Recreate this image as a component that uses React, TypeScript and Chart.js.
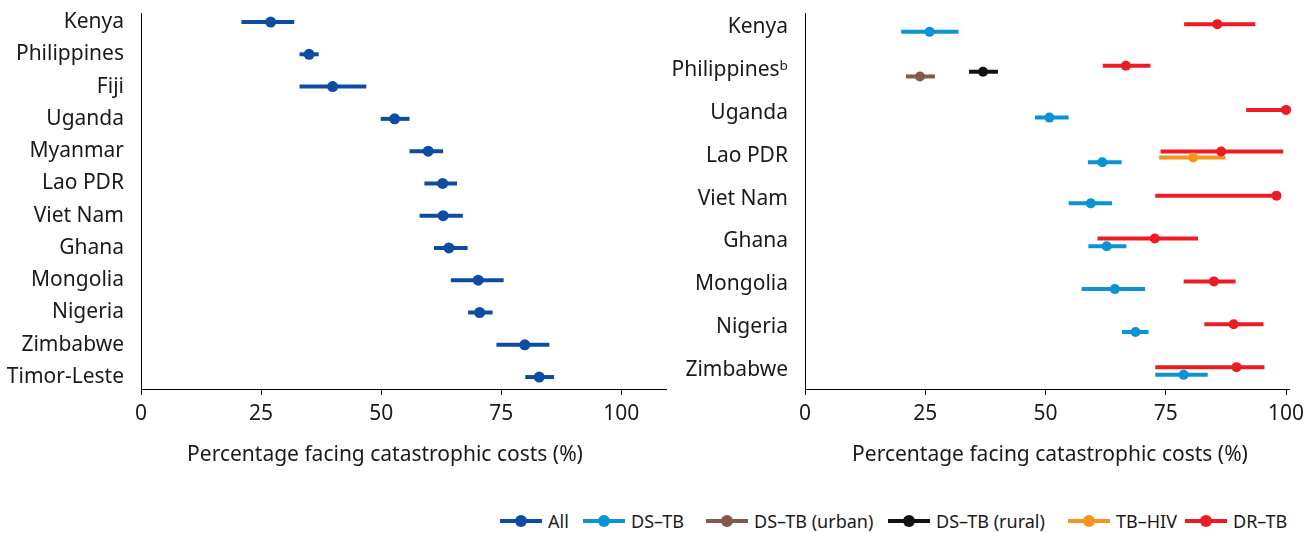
import React, { useEffect, useRef } from 'react';
import { Chart, registerables } from 'chart.js';

Chart.register(...registerables);

const FONT = '"Noto Sans", sans-serif';
const TEXT = '#1a1a1a';

// ---------- Left panel: all TB patients ----------
const leftCategories = ['Kenya', 'Philippines', 'Fiji', 'Uganda', 'Myanmar', 'Lao PDR', 'Viet Nam', 'Ghana', 'Mongolia', 'Nigeria', 'Zimbabwe', 'Timor-Leste'];
const allValues = [27.0, 35.0, 39.9, 52.8, 59.8, 62.8, 62.9, 64.1, 70.2, 70.5, 79.9, 82.9];
const allLow = [20.9, 33.0, 33.0, 49.9, 55.9, 59.0, 58.0, 61.0, 64.5, 68.1, 74.0, 80.0];
const allHigh = [31.9, 37.0, 46.9, 55.9, 62.9, 65.8, 67.0, 68.0, 75.5, 73.2, 85.0, 86.0];

// ---------- Right panel: by patient group ----------
const rightCategories = ['Kenya', 'Philippinesᵇ', 'Uganda', 'Lao PDR', 'Viet Nam', 'Ghana', 'Mongolia', 'Nigeria', 'Zimbabwe'];

const drTbValues = [85.7, 66.7, 100, 86.5, 98.0, 72.7, 85.0, 89.1, 89.7];
const drTbLow = [78.8, 61.9, 91.7, 73.9, 72.8, 60.8, 78.7, 83.0, 72.8];
const drTbHigh = [93.6, 71.8, 100, 99.4, 98.0, 81.7, 89.5, 95.3, 95.5];

const tbHivValues = [null, null, null, 80.7, null, null, null, null, null];
const tbHivLow = [null, null, null, 73.6, null, null, null, null, null];
const tbHivHigh = [null, null, null, 87.4, null, null, null, null, null];

const dsRuralValues = [null, 37.0, null, null, null, null, null, null, null];
const dsRuralLow = [null, 34.1, null, null, null, null, null, null, null];
const dsRuralHigh = [null, 40.1, null, null, null, null, null, null, null];

const dsUrbanValues = [null, 23.9, null, null, null, null, null, null, null];
const dsUrbanLow = [null, 21.0, null, null, null, null, null, null, null];
const dsUrbanHigh = [null, 27.0, null, null, null, null, null, null, null];

const dsTbValues = [25.9, null, 50.8, 61.8, 59.4, 62.7, 64.4, 68.7, 78.7];
const dsTbLow = [20.0, null, 47.8, 58.8, 54.8, 58.9, 57.5, 65.9, 72.8];
const dsTbHigh = [31.9, null, 54.8, 65.8, 63.8, 66.8, 70.7, 71.4, 83.7];

const xTickValues = [0, 25, 50, 75, 100];
const axisTitle = 'Percentage facing catastrophic costs (%)';

const COLORS = {
  all: '#0c4da2',
  ds: '#0b93d3',
  urban: '#86574b',
  rural: '#111111',
  hiv: '#f7941e',
  dr: '#ec1c24',
};

// order within a category (top to bottom)
const rightSeries = [
  { label: 'DR–TB', color: COLORS.dr, values: drTbValues, low: drTbLow, high: drTbHigh },
  { label: 'TB–HIV', color: COLORS.hiv, values: tbHivValues, low: tbHivLow, high: tbHivHigh },
  { label: 'DS–TB (rural)', color: COLORS.rural, values: dsRuralValues, low: dsRuralLow, high: dsRuralHigh },
  { label: 'DS–TB (urban)', color: COLORS.urban, values: dsUrbanValues, low: dsUrbanLow, high: dsUrbanHigh },
  { label: 'DS–TB', color: COLORS.ds, values: dsTbValues, low: dsTbLow, high: dsTbHigh },
];

const legendItems = [
  { label: 'All', color: COLORS.all },
  { label: 'DS–TB', color: COLORS.ds },
  { label: 'DS–TB (urban)', color: COLORS.urban },
  { label: 'DS–TB (rural)', color: COLORS.rural },
  { label: 'TB–HIV', color: COLORS.hiv },
  { label: 'DR–TB', color: COLORS.dr },
];
const legendLefts = [500, 583, 706, 888, 1068, 1185];

const dodgeOffsets: Record<number, number[]> = {
  1: [0],
  2: [-0.07, 0.11],
  3: [-0.1, 0.04, 0.15],
};

const errorBarPlugin = {
  id: 'errorBars',
  beforeDatasetsDraw(chart: any) {
    const { ctx } = chart;
    const x = chart.scales.x;
    const y = chart.scales.y;
    chart.data.datasets.forEach((ds: any) => {
      ctx.save();
      ctx.strokeStyle = ds.borderColor;
      ctx.lineWidth = ds.errorWidth || 4;
      ctx.lineCap = 'butt';
      ds.data.forEach((p: any) => {
        const yy = y.getPixelForValue(p.y);
        ctx.beginPath();
        ctx.moveTo(x.getPixelForValue(p.lo), yy);
        ctx.lineTo(x.getPixelForValue(p.hi), yy);
        ctx.stroke();
      });
      ctx.restore();
    });
  },
};

const xTitlePlugin = {
  id: 'xTitle',
  afterDraw(chart: any, _args: any, opts: any) {
    const { ctx } = chart;
    ctx.save();
    ctx.font = `21px ${FONT}`;
    ctx.fillStyle = TEXT;
    ctx.textAlign = 'center';
    ctx.textBaseline = 'middle';
    ctx.fillText(opts.text, opts.x, opts.y);
    ctx.restore();
  },
};

function makeOptions(cfg: { cats: string[]; xMax: number; yMin: number; yMax: number; yWidth: number; height: number; padRight: number; titleX: number }) {
  return {
    responsive: false,
    animation: false as const,
    events: [] as any[],
    layout: { padding: { top: 13, right: cfg.padRight, left: 0, bottom: 0 } },
    plugins: {
      legend: { display: false },
      tooltip: { enabled: false },
      xTitle: { text: axisTitle, x: cfg.titleX, y: 455 },
    },
    scales: {
      x: {
        type: 'linear' as const,
        min: 0,
        max: cfg.xMax,
        afterBuildTicks: (axis: any) => {
          axis.ticks = xTickValues.map((v) => ({ value: v }));
        },
        afterFit: (axis: any) => {
          axis.height = cfg.height - 389;
          axis.paddingLeft = 0;
          axis.paddingRight = 0;
          axis.paddingTop = 0;
          axis.paddingBottom = 0;
        },
        ticks: { color: TEXT, font: { family: FONT, size: 21 }, padding: 6, maxRotation: 0 },
        grid: { display: true, drawOnChartArea: false, drawTicks: true, tickLength: 6, color: '#000', lineWidth: 1 },
        border: { display: true, color: '#000', width: 1 },
        title: { display: false },
      },
      y: {
        type: 'linear' as const,
        reverse: true,
        min: cfg.yMin,
        max: cfg.yMax,
        afterBuildTicks: (axis: any) => {
          axis.ticks = cfg.cats.map((_, i) => ({ value: i }));
        },
        afterFit: (axis: any) => {
          axis.width = cfg.yWidth;
          axis.paddingTop = 0;
          axis.paddingBottom = 0;
          axis.paddingLeft = 0;
          axis.paddingRight = 0;
        },
        ticks: {
          color: TEXT,
          font: { family: FONT, size: 21 },
          padding: 17,
          callback: (v: any) => cfg.cats[v] ?? '',
        },
        grid: { display: false, drawTicks: false },
        border: { display: true, color: '#000', width: 1 },
      },
    },
  };
}

function LeftChart() {
  const ref = useRef<HTMLCanvasElement>(null);
  useEffect(() => {
    const data = leftCategories.map((_, i) => ({ x: allValues[i], y: i, lo: allLow[i], hi: allHigh[i] }));
    const chart = new Chart(ref.current!, {
      type: 'scatter',
      data: {
        datasets: [
          {
            label: 'All',
            data,
            borderColor: COLORS.all,
            backgroundColor: COLORS.all,
            pointRadius: 5.5,
            pointBorderWidth: 0,
            clip: false,
            errorWidth: 4,
          } as any,
        ],
      },
      options: makeOptions({ cats: leftCategories, xMax: 109.4, yMin: -0.28, yMax: 11.37, yWidth: 141, height: 480, padRight: 4, titleX: 385 }) as any,
      plugins: [errorBarPlugin, xTitlePlugin],
    });
    return () => chart.destroy();
  }, []);
  return <canvas ref={ref} width={672} height={480} style={{ position: 'absolute', left: 0, top: 0 }} />;
}

function RightChart() {
  const ref = useRef<HTMLCanvasElement>(null);
  useEffect(() => {
    const datasets = rightSeries.map((s) => {
      const data: any[] = [];
      rightCategories.forEach((_, i) => {
        if (s.values[i] == null) return;
        const present = rightSeries.filter((t) => t.values[i] != null);
        const rank = present.indexOf(s);
        const off = dodgeOffsets[present.length][rank];
        data.push({ x: s.values[i], y: i + off, lo: s.low[i], hi: s.high[i] });
      });
      return {
        label: s.label,
        data,
        borderColor: s.color,
        backgroundColor: s.color,
        pointRadius: 5,
        pointBorderWidth: 0,
        clip: false,
        errorWidth: 4,
      } as any;
    });
    const chart = new Chart(ref.current!, {
      type: 'scatter',
      data: { datasets },
      options: makeOptions({ cats: rightCategories, xMax: 100.6, yMin: -0.33, yMax: 8.44, yWidth: 145, height: 480, padRight: 19, titleX: 390 }) as any,
      plugins: [errorBarPlugin, xTitlePlugin],
    });
    return () => chart.destroy();
  }, []);
  return <canvas ref={ref} width={648} height={480} style={{ position: 'absolute', left: 660, top: 0 }} />;
}

function LegendIcon({ color }: { color: string }) {
  return (
    <span style={{ position: 'relative', display: 'inline-block', width: 42, height: 12, marginRight: 6, flex: 'none' }}>
      <span style={{ position: 'absolute', left: 0, right: 0, top: 4, height: 4, background: color }} />
      <span style={{ position: 'absolute', left: 15, top: 0, width: 12, height: 12, borderRadius: 6, background: color }} />
    </span>
  );
}

export default function App() {
  return (
    <div style={{ position: 'relative', width: 1308, height: 533, background: '#fff', fontFamily: FONT }}>
      <style>{'body{margin:0}'}</style>
      <LeftChart />
      <RightChart />
      {legendItems.map((it, i) => (
        <div
          key={it.label}
          style={{
            position: 'absolute',
            left: legendLefts[i],
            top: 509,
            height: 24,
            display: 'flex',
            alignItems: 'center',
            fontSize: 18,
            color: TEXT,
            whiteSpace: 'nowrap',
          }}
        >
          <LegendIcon color={it.color} />
          <span>{it.label}</span>
        </div>
      ))}
    </div>
  );
}
